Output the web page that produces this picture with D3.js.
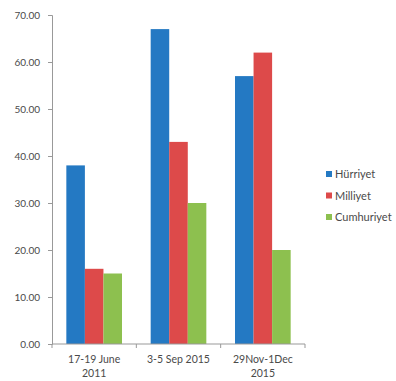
<!DOCTYPE html>
<html>
<head>
<meta charset="utf-8">
<script src="https://cdn.jsdelivr.net/npm/d3@7"></script>
<style>
  body { margin: 0; background: #fff; }
  svg text { font-family: Lato, "Open Sans", sans-serif; fill: #4a4a4a; }
</style>
</head>
<body>
<svg id="chart" width="396" height="381"></svg>
<script>
// Chart data.
const categories = [["17-19 June", "2011"], ["3-5 Sep 2015"], ["29Nov-1Dec", "2015"]];
const seriesNames = ["Hürriyet", "Milliyet", "Cumhuriyet"];
const hurriyet = [38, 67, 57];
const milliyet = [16, 43, 62];
const cumhuriyet = [15, 30, 20];
const yTicks = [0, 10, 20, 30, 40, 50, 60, 70];
const colors = ["#2479c3", "#dd4a4a", "#8dc04f"];

const values = [hurriyet, milliyet, cumhuriyet];
const margin = { left: 52, top: 15, right: 91, bottom: 37 };
const svg = d3.select("#chart");
const width = 396 - margin.left - margin.right,
  height = 381 - margin.top - margin.bottom;

const g = svg.append("g")
  .attr("transform", `translate(${margin.left},${margin.top})`);

const x0 = d3.scaleBand()
  .domain(d3.range(categories.length))
  .range([0, width])
  .paddingInner(0.34)
  .paddingOuter(0.17);

const x1 = d3.scaleBand()
  .domain(d3.range(seriesNames.length))
  .range([0, x0.bandwidth()]);

const y = d3.scaleLinear().domain([0, 70]).range([height, 0]);

// Bars.
categories.forEach((c, i) => {
  const grp = g.append("g").attr("transform", `translate(${x0(i)},0)`);
  grp.selectAll("rect")
    .data(values.map((s) => s[i]))
    .enter().append("rect")
    .attr("x", (d, j) => x1(j))
    .attr("width", x1.bandwidth())
    .attr("y", (d) => y(d))
    .attr("height", (d) => height - y(d))
    .attr("fill", (d, j) => colors[j]);
});

// Y axis.
const yAxis = g.append("g")
  .call(d3.axisLeft(y).tickValues(yTicks).tickFormat(d3.format(".2f")).tickSize(4).tickPadding(8));
yAxis.selectAll("text").style("font-size", "10px");
yAxis.selectAll("path, line").attr("stroke", "#999");

// X axis with category ticks between groups.
const xa = g.append("g").attr("transform", `translate(0,${height})`);
xa.append("line").attr("x1", 0).attr("x2", width).attr("stroke", "#999");
const step = width / categories.length;
xa.selectAll("line.tk")
  .data(d3.range(categories.length + 1))
  .enter().append("line")
  .attr("class", "tk")
  .attr("x1", (d) => d * step).attr("x2", (d) => d * step)
  .attr("y1", 0).attr("y2", 4)
  .attr("stroke", "#999");
xa.selectAll("text")
  .data(categories)
  .enter().append("text")
  .attr("text-anchor", "middle")
  .attr("x", (d, i) => x0(i) + x0.bandwidth() / 2)
  .attr("y", 19)
  .style("font-size", "10.5px")
  .selectAll("tspan")
  .data((d) => d)
  .enter().append("tspan")
  .attr("x", function () { return this.parentNode.getAttribute("x"); })
  .attr("dy", (d, k) => (k ? 14 : 0))
  .text((d) => d);

// Legend.
const legend = svg.append("g").attr("transform", "translate(326,174)");
seriesNames.forEach((name, i) => {
  const row = legend.append("g").attr("transform", `translate(0,${i * 21.5})`);
  row.append("rect").attr("x", 0).attr("y", -3).attr("width", 6).attr("height", 6).attr("fill", colors[i]);
  row.append("text").attr("x", 9).attr("y", 4).style("font-size", "11px").text(name);
});
</script>
</body>
</html>
